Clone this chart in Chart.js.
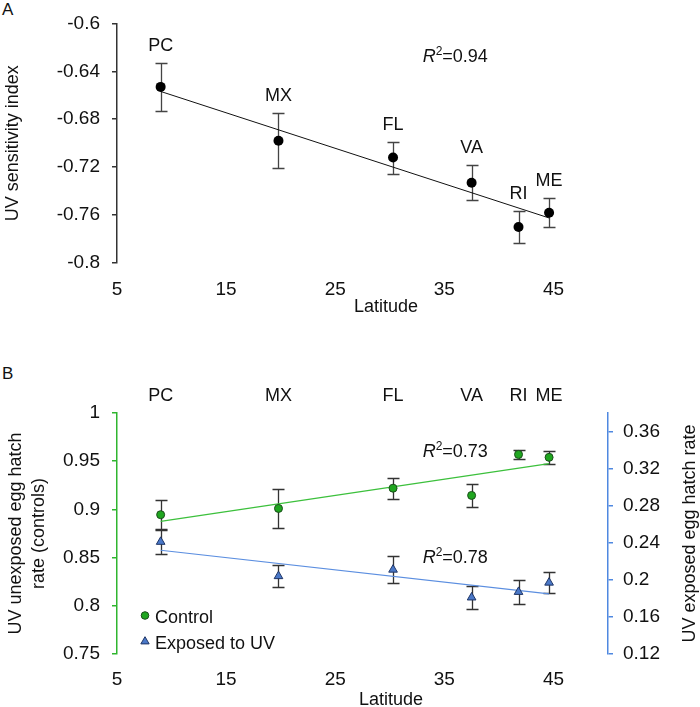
<!DOCTYPE html>
<html><head><meta charset="utf-8">
<script src="https://cdn.jsdelivr.net/npm/chart.js@4/dist/chart.umd.min.js"></script>
<style>
html,body{margin:0;padding:0;background:#fff;}
canvas{position:absolute;left:0;}
#cA{top:0;}
#cB{top:350px;}
.pl{position:absolute;font:17px "Liberation Sans",Arial,sans-serif;color:#111;}
</style></head><body>
<div class="pl" style="left:2px;top:0px">A</div>
<div class="pl" style="left:2px;top:364px">B</div>
<canvas id="cA" width="700" height="320"></canvas>
<canvas id="cB" width="700" height="357"></canvas>
<script>
// ---------- data ----------
const sites = ['PC','MX','FL','VA','RI','ME'];
const latitude = [9.0, 19.8, 30.3, 37.5, 41.8, 44.6];
const uvIndex = [-0.653, -0.698, -0.712, -0.733, -0.770, -0.758];
const uvIndexErr = [0.020, 0.023, 0.0133, 0.0147, 0.013, 0.012];
const uvFitEnds = [-0.6568, -0.7624];
const controlRate = [0.8945, 0.901, 0.922, 0.9145, 0.957, 0.954];
const controlErr = [0.015, 0.020, 0.011, 0.012, 0.0044, 0.007];
const exposedRate = [0.241, 0.204, 0.211, 0.181, 0.187, 0.197];
const exposedErr = [0.013, 0.012, 0.0148, 0.0127, 0.013, 0.0113];
const controlFitEnds = [0.8876, 0.9474];
const exposedFitEnds = [0.2319, 0.1849];
const xTicks = [5, 15, 25, 35, 45];
const yTicksA = [-0.8, -0.76, -0.72, -0.68, -0.64, -0.6];
const yTickLabelsA = ['-0.8', '-0.76', '-0.72', '-0.68', '-0.64', '-0.6'];
const yTicksB = [0.75, 0.8, 0.85, 0.9, 0.95, 1];
const yTickLabelsB = ['0.75', '0.8', '0.85', '0.9', '0.95', '1'];
const y2TicksB = [0.12, 0.16, 0.2, 0.24, 0.28, 0.32, 0.36];
const y2TickLabelsB = ['0.12', '0.16', '0.2', '0.24', '0.28', '0.32', '0.36'];
const r2A = '0.94', r2Control = '0.73', r2Exposed = '0.78';

const FONT = '"Liberation Sans", Arial, sans-serif';
const pts = (ys) => latitude.map((x, i) => ({x, y: ys[i]}));
const ends = (e) => [{x: latitude[0], y: e[0]}, {x: latitude[latitude.length - 1], y: e[1]}];

const errorBarPlugin = {
  id: 'errbars',
  beforeDatasetsDraw(chart) {
    const ctx = chart.ctx;
    chart.data.datasets.forEach((ds) => {
      if (!ds.errors) return;
      const ys = chart.scales[ds.yAxisID || 'y'];
      ctx.save();
      ctx.strokeStyle = ds.errorColor || '#333';
      ctx.lineWidth = 1.3;
      ds.data.forEach((p, j) => {
        const x = Math.round(chart.scales.x.getPixelForValue(p.x)) + 0.5;
        const t = Math.round(ys.getPixelForValue(p.y + ds.errors[j])) + 0.5;
        const b = Math.round(ys.getPixelForValue(p.y - ds.errors[j])) + 0.5;
        ctx.beginPath();
        ctx.moveTo(x, t); ctx.lineTo(x, b);
        ctx.moveTo(x - 6, t); ctx.lineTo(x + 6, t);
        ctx.moveTo(x - 6, b); ctx.lineTo(x + 6, b);
        ctx.stroke();
      });
      ctx.restore();
    });
  }
};

function drawR2(ctx, cx, cy, val) {
  ctx.save();
  ctx.fillStyle = '#111';
  ctx.textBaseline = 'middle';
  ctx.textAlign = 'left';
  ctx.font = 'italic 18px ' + FONT;
  const wR = ctx.measureText('R').width;
  ctx.font = '12px ' + FONT;
  const w2 = ctx.measureText('2').width;
  ctx.font = '18px ' + FONT;
  const wv = ctx.measureText('=' + val).width;
  let x = cx - (wR + w2 + wv) / 2;
  ctx.font = 'italic 18px ' + FONT;
  ctx.fillText('R', x, cy); x += wR;
  ctx.font = '12px ' + FONT;
  ctx.fillText('2', x, cy - 5); x += w2;
  ctx.font = '18px ' + FONT;
  ctx.fillText('=' + val, x, cy);
  ctx.restore();
}

function drawText(ctx, text, x, y, rot) {
  ctx.save();
  ctx.fillStyle = '#111';
  ctx.font = '18px ' + FONT;
  ctx.textAlign = 'center';
  ctx.textBaseline = 'middle';
  ctx.translate(x, y);
  if (rot) ctx.rotate(rot);
  ctx.fillText(text, 0, 0);
  ctx.restore();
}

const axisFont = {family: FONT, size: 18};
const tickFont = {family: FONT, size: 19};

// ---------- Panel A ----------
const annotA = {
  id: 'annotA',
  afterDatasetsDraw(chart) {
    const ctx = chart.ctx, xs = chart.scales.x, ys = chart.scales.y;
    sites.forEach((s, i) => {
      drawText(ctx, s, xs.getPixelForValue(latitude[i]), ys.getPixelForValue(uvIndex[i] + uvIndexErr[i]) - 17);
    });
    drawR2(ctx, xs.getPixelForValue(36), ys.getPixelForValue(-0.628), r2A);
    drawText(ctx, 'Latitude', 386, 307);
  }
};

new Chart(document.getElementById('cA'), {
  type: 'scatter',
  data: {
    datasets: [
      {data: ends(uvFitEnds), showLine: true, pointRadius: 0, borderColor: '#111', borderWidth: 1, order: 2},
      {data: pts(uvIndex), errors: uvIndexErr, errorColor: '#444', pointRadius: 5, pointBackgroundColor: '#000', pointBorderColor: '#000', pointBorderWidth: 0, order: 1}
    ]
  },
  options: {
    responsive: false, animation: false, devicePixelRatio: 1,
    layout: {padding: {top: 13, left: 0, right: 92, bottom: 0}},
    plugins: {legend: {display: false}, tooltip: {enabled: false}},
    scales: {
      x: {
        type: 'linear', min: 5, max: 50,
        afterBuildTicks: (s) => { s.ticks = xTicks.map(v => ({value: v})); },
        afterFit: (s) => { s.height = 57; },
        grid: {display: false, drawTicks: false}, border: {display: false},
        ticks: {font: tickFont, color: '#111', padding: 15, maxRotation: 0, autoSkip: false}
      },
      y: {
        type: 'linear', min: -0.8, max: -0.6,
        afterBuildTicks: (s) => { s.ticks = yTicksA.map(v => ({value: v})); },
        afterFit: (s) => { s.width = 117; },
        grid: {drawOnChartArea: false, drawTicks: true, tickLength: 5, color: '#333', lineWidth: 1.5},
        border: {display: true, color: '#333', width: 1.5},
        ticks: {font: tickFont, color: '#111', padding: 12, autoSkip: false,
          callback: (v, i) => yTickLabelsA[i]},
        title: {display: true, text: 'UV sensitivity index', font: axisFont, color: '#111', padding: {top: 2, bottom: 0}}
      }
    }
  },
  plugins: [errorBarPlugin, annotA]
});

// ---------- Panel B ----------
const GREEN_AXIS = '#2fb52f', BLUE_AXIS = '#4f88e0';
const annotB = {
  id: 'annotB',
  afterDatasetsDraw(chart) {
    const ctx = chart.ctx, xs = chart.scales.x, ys = chart.scales.y, ca = chart.chartArea;
    sites.forEach((s, i) => drawText(ctx, s, xs.getPixelForValue(latitude[i]), ca.top - 17));
    drawR2(ctx, xs.getPixelForValue(36), ys.getPixelForValue(0.960), r2Control);
    drawR2(ctx, xs.getPixelForValue(36), ys.getPixelForValue(0.850), r2Exposed);
    // legend
    const lx = ca.left + 28;
    const c = chart.data.datasets[2], t = chart.data.datasets[3];
    ctx.save();
    ctx.fillStyle = c.pointBackgroundColor; ctx.strokeStyle = c.pointBorderColor; ctx.lineWidth = 1;
    ctx.beginPath(); ctx.arc(lx, ca.bottom - 38.5, 3.8, 0, Math.PI * 2); ctx.fill(); ctx.stroke();
    ctx.fillStyle = t.pointBackgroundColor; ctx.strokeStyle = t.pointBorderColor;
    const ty = ca.bottom - 12.5, r = 4.8;
    ctx.beginPath();
    ctx.moveTo(lx, ty - r); ctx.lineTo(lx + r * 0.866, ty + r / 2); ctx.lineTo(lx - r * 0.866, ty + r / 2); ctx.closePath();
    ctx.fill(); ctx.stroke();
    ctx.fillStyle = '#111'; ctx.font = '18px ' + FONT; ctx.textAlign = 'left'; ctx.textBaseline = 'middle';
    ctx.fillText('Control', lx + 10, ca.bottom - 36);
    ctx.fillText('Exposed to UV', lx + 10, ca.bottom - 10);
    ctx.restore();
    drawText(ctx, 'Latitude', 391, 350);
    drawText(ctx, 'UV exposed egg hatch rate', 690, (ca.top + ca.bottom) / 2, -Math.PI / 2);
  }
};

new Chart(document.getElementById('cB'), {
  type: 'scatter',
  data: {
    datasets: [
      {data: ends(controlFitEnds), showLine: true, pointRadius: 0, borderColor: '#3cc03c', borderWidth: 1.2, yAxisID: 'y', order: 3},
      {data: ends(exposedFitEnds), showLine: true, pointRadius: 0, borderColor: '#5b8ee0', borderWidth: 1.2, yAxisID: 'y2', order: 4},
      {data: pts(controlRate), errors: controlErr, errorColor: '#333', yAxisID: 'y', pointRadius: 4, pointStyle: 'circle',
        pointBackgroundColor: '#1fa61f', pointBorderColor: '#1a4d1a', pointBorderWidth: 1, order: 1},
      {data: pts(exposedRate), errors: exposedErr, errorColor: '#333', yAxisID: 'y2', pointRadius: 5, pointStyle: 'triangle',
        pointBackgroundColor: '#4a78c8', pointBorderColor: '#1f3566', pointBorderWidth: 1, order: 2}
    ]
  },
  options: {
    responsive: false, animation: false, devicePixelRatio: 1,
    layout: {padding: {top: 63, left: 0, right: 0, bottom: 0}},
    plugins: {legend: {display: false}, tooltip: {enabled: false}},
    scales: {
      x: {
        type: 'linear', min: 5, max: 50,
        afterBuildTicks: (s) => { s.ticks = xTicks.map(v => ({value: v})); },
        afterFit: (s) => { s.height = 53; },
        grid: {display: false, drawTicks: false}, border: {display: false},
        ticks: {font: tickFont, color: '#111', padding: 14, maxRotation: 0, autoSkip: false}
      },
      y: {
        type: 'linear', position: 'left', min: 0.75, max: 1,
        afterBuildTicks: (s) => { s.ticks = yTicksB.map(v => ({value: v})); },
        afterFit: (s) => { s.width = 117; },
        grid: {drawOnChartArea: false, drawTicks: true, tickLength: 5, color: GREEN_AXIS, lineWidth: 1.5},
        border: {display: true, color: GREEN_AXIS, width: 1.5},
        ticks: {font: tickFont, color: '#111', padding: 12, autoSkip: false,
          callback: (v, i) => yTickLabelsB[i]},
        title: {display: true, text: ['UV unexposed egg hatch', 'rate (controls)'], font: {family: FONT, size: 18, lineHeight: 1.25},
          color: '#111', padding: {top: 5, bottom: 0}}
      },
      y2: {
        type: 'linear', position: 'right', min: 0.12, max: 0.38,
        afterBuildTicks: (s) => { s.ticks = y2TicksB.map(v => ({value: v})); },
        afterFit: (s) => { s.width = 92; },
        grid: {drawOnChartArea: false, drawTicks: true, tickLength: 5, color: BLUE_AXIS, lineWidth: 1.5},
        border: {display: true, color: BLUE_AXIS, width: 1.5},
        ticks: {font: tickFont, color: '#111', padding: 10, autoSkip: false,
          callback: (v, i) => y2TickLabelsB[i]}
      }
    }
  },
  plugins: [errorBarPlugin, annotB]
});
</script>
</body></html>
